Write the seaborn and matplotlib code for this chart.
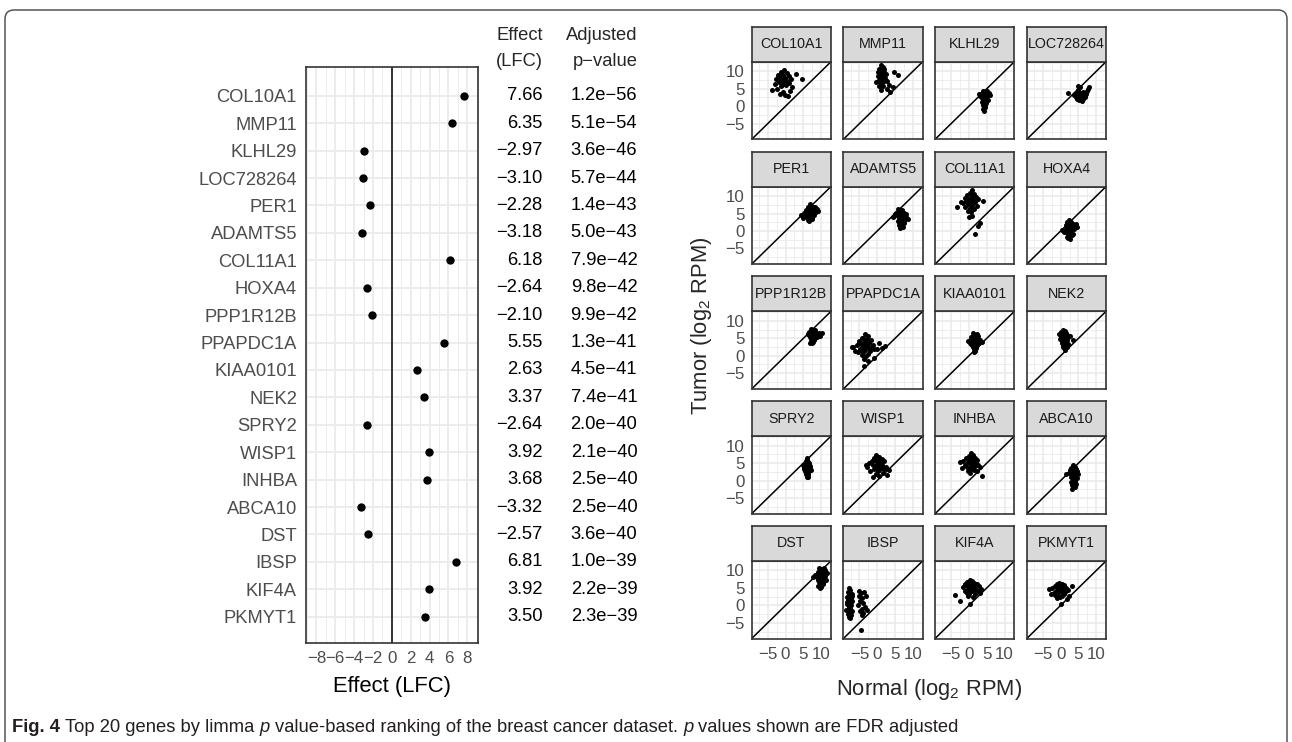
import matplotlib
matplotlib.use("Agg")
import matplotlib.pyplot as plt
import matplotlib.transforms as mtransforms
from matplotlib.patches import FancyBboxPatch
from matplotlib.ticker import MultipleLocator, FixedLocator, NullFormatter
from matplotlib import font_manager
import pandas as pd
import seaborn as sns

# ---------------------------------------------------------------- data
genes = ["COL10A1", "MMP11", "KLHL29", "LOC728264", "PER1", "ADAMTS5",
         "COL11A1", "HOXA4", "PPP1R12B", "PPAPDC1A", "KIAA0101", "NEK2",
         "SPRY2", "WISP1", "INHBA", "ABCA10", "DST", "IBSP", "KIF4A", "PKMYT1"]
effect_lfc = [7.66, 6.35, -2.97, -3.10, -2.28, -3.18, 6.18, -2.64, -2.10, 5.55,
              2.63, 3.37, -2.64, 3.92, 3.68, -3.32, -2.57, 6.81, 3.92, 3.50]
adj_pvalue = [1.2e-56, 5.1e-54, 3.6e-46, 5.7e-44, 1.4e-43, 5.0e-43, 7.9e-42,
              9.8e-42, 9.9e-42, 1.3e-41, 4.5e-41, 7.4e-41, 2.0e-40, 2.1e-40,
              2.5e-40, 2.5e-40, 3.6e-40, 1.0e-39, 2.2e-39, 2.3e-39]

effect_ticks = [-8, -6, -4, -2, 0, 2, 4, 6, 8]
expr_ticks = [-5, 0, 5, 10]

# per-sample expression (log2 RPM): normal tissue vs tumour
col10a1_normal = [-0.5, -1.2, 0.3, -2.0, -0.8, 0.9, -1.6, -0.2, 1.4, -2.6, -1.0, 0.5, -0.4, -1.8, 1.0,
                  -3.0, -0.9, 0.2, -1.3, 1.8, -3.7, 2.8, 4.6, -2.4, -0.1, 1.2, -0.6, -1.5, 0.7, -2.2]
col10a1_tumor = [10.5, 9.8, 9.5, 9.0, 8.8, 8.6, 8.2, 8.0, 7.9, 7.7, 7.5, 7.3, 7.0, 6.9, 6.6,
                 6.4, 6.2, 6.0, 5.8, 5.5, 4.6, 9.3, 7.9, 4.9, 3.2, 4.3, 4.0, 3.6, 2.9, 8.4]
mmp11_normal = [1.0, 1.5, 0.6, 2.0, 1.2, 0.3, 1.8, 0.9, 2.4, 1.4, 0.1, 1.7, 0.7, 2.2, 1.1,
                0.4, 1.9, 2.8, 0.8, 1.3, 3.2, 4.3, 5.7, 4.7, 1.6, 0.5, 2.6, 1.0, 3.6, -0.3]
mmp11_tumor = [11.7, 11.2, 10.8, 10.6, 10.2, 9.9, 9.7, 9.4, 9.2, 9.0, 8.7, 8.5, 8.3, 8.0, 7.8,
               7.6, 7.3, 7.1, 6.8, 6.5, 6.2, 5.4, 8.8, 9.8, 5.8, 5.9, 5.0, 4.6, 4.2, 7.0]
klhl29_normal = [3.8, 4.4, 5.0, 3.4, 4.1, 4.8, 5.6, 3.1, 4.0, 4.6, 5.2, 3.6, 4.3, 4.9, 3.9,
                 4.5, 5.4, 4.2, 4.7, 3.7, 4.4, 4.0, 4.6, 4.2, 3.9, 4.5, 4.1, 4.3, 2.8, 5.9]
klhl29_tumor = [4.4, 4.0, 4.3, 3.6, 3.2, 3.5, 3.8, 2.9, 2.6, 2.8, 3.0, 2.3, 2.0, 2.2, 1.6,
                1.5, 1.8, 1.1, 0.9, 1.2, 0.6, 0.2, -0.2, -0.5, -0.9, -0.1, -1.3, 0.3, 3.4, 3.1]
loc728264_normal = [4.0, 4.6, 5.2, 5.8, 6.4, 7.0, 4.3, 4.9, 5.5, 6.1, 6.7, 7.4, 3.8, 4.5, 5.1,
                    5.7, 6.3, 6.9, 4.8, 5.4, 6.0, 6.6, 5.0, 5.9, 2.2, 7.9, 7.6, 4.2, 6.2, 5.3]
loc728264_tumor = [3.6, 3.2, 4.0, 3.4, 3.9, 3.5, 2.6, 2.4, 2.9, 2.7, 2.5, 4.4, 3.1, 2.0, 1.8,
                   2.2, 2.0, 3.0, 4.5, 5.6, 3.3, 3.7, 5.9, 1.6, 3.8, 5.5, 4.9, 3.9, 4.2, 2.8]
per1_normal = [6.8, 7.2, 7.6, 6.4, 7.0, 7.8, 8.4, 5.8, 6.6, 7.4, 8.1, 8.9, 5.2, 6.0, 6.9,
               7.7, 8.5, 4.4, 5.5, 6.3, 7.1, 8.0, 5.0, 5.9, 6.7, 7.5, 6.2, 7.3, 9.2, 6.5]
per1_tumor = [7.8, 7.3, 7.0, 6.8, 6.5, 6.6, 6.9, 6.0, 6.2, 6.1, 5.9, 6.4, 5.2, 5.5, 5.6,
              5.4, 5.3, 4.6, 4.8, 4.9, 4.7, 4.5, 3.8, 4.0, 4.1, 3.7, 3.2, 3.4, 5.8, 2.8]
adamts5_normal = [5.8, 6.4, 7.0, 5.3, 6.0, 6.8, 7.6, 8.2, 4.6, 5.6, 6.5, 7.3, 8.0, 6.2, 7.1,
                  5.9, 6.7, 7.5, 8.6, 6.3, 7.0, 6.0, 6.6, 7.2, 6.4, 6.9, 6.1, 7.4, 4.4, 5.1]
adamts5_tumor = [6.3, 5.9, 6.0, 5.2, 5.4, 5.5, 5.1, 4.8, 4.3, 4.6, 4.5, 4.2, 4.0, 3.7, 3.5,
                 3.0, 3.2, 2.8, 3.4, 2.4, 2.0, 1.8, 1.5, 1.2, 0.8, 1.0, 2.6, 2.2, 4.1, 5.0]
col11a1_normal = [0.9, 0.2, 1.5, -0.5, 0.8, 2.0, -1.2, 0.0, 1.2, 2.6, -0.8, 0.5, 1.8, -1.8, -0.2,
                  0.9, 2.3, -1.0, 0.3, 1.4, -0.4, 0.7, 3.9, -3.4, 0.9, 1.8, 3.2, 2.6, -2.2, 0.1]
col11a1_tumor = [11.7, 11.0, 10.6, 10.3, 10.0, 9.8, 9.5, 9.3, 9.0, 9.2, 8.7, 8.5, 8.3, 8.0, 7.7,
                 7.5, 7.2, 6.9, 6.6, 6.3, 5.8, 5.3, 8.6, 6.9, 4.4, -0.8, 2.2, 1.3, 8.2, 4.0]
hoxa4_normal = [2.4, 2.9, 1.8, 2.2, 3.0, 3.6, 1.5, 2.6, 3.3, 4.2, 1.9, 2.5, 3.1, 1.2, 2.0,
                2.8, 3.8, 2.3, 1.6, 2.7, 3.4, 1.0, 2.1, 4.5, 2.2, 1.7, 2.5, 3.2, 0.5, 2.0]
hoxa4_tumor = [3.1, 2.6, 2.7, 2.2, 2.4, 2.0, 1.6, 1.8, 1.5, 1.9, 1.0, 1.1, 0.8, 0.4, 0.5,
               0.2, 0.6, -0.3, -0.2, -0.5, -0.8, -0.4, -1.0, 1.2, -1.5, -1.8, -2.3, -1.2, 0.4, -1.9]
ppp1r12b_normal = [7.0, 7.6, 8.2, 6.6, 7.3, 7.9, 8.6, 6.3, 7.1, 7.7, 8.4, 9.3, 6.8, 7.4, 8.0,
                   7.2, 7.8, 8.8, 6.5, 7.5, 8.1, 10.3, 9.8, 7.0, 7.6, 6.9, 7.9, 7.3, 8.3, 6.2]
ppp1r12b_tumor = [7.8, 7.5, 7.3, 6.9, 7.0, 6.7, 6.5, 6.2, 6.3, 6.1, 6.0, 6.4, 5.5, 5.7, 5.6,
                  5.0, 5.2, 5.4, 5.9, 4.6, 4.8, 6.4, 5.6, 4.2, 4.0, 3.8, 4.4, 3.6, 5.1, 6.1]
ppapdc1a_normal = [-3.5, -2.6, -4.2, -3.0, -1.8, -5.0, -3.8, -2.2, -4.6, -3.2, -1.2, -5.8, -2.9, -4.0,
                   -1.5, -6.7, -3.6, -2.4, -0.8, -4.8, -3.3, -2.0, -5.4, -3.9, -0.2, 1.4, -7.2, -2.7,
                   -4.4, -3.1, -1.0, -5.2, -3.7, -3.8, 2.2, -6.2, -2.5, -4.1, 0.5, -3.4]
ppapdc1a_tumor = [6.3, 5.6, 5.2, 4.8, 4.5, 4.2, 4.0, 3.8, 3.5, 3.4, 3.2, 3.0, 2.9, 2.7,
                  2.6, 2.5, 2.3, 2.1, 2.0, 1.8, 1.6, 1.5, 1.2, 1.0, 1.9, 2.2, 2.6, 0.6,
                  0.2, -0.2, -0.5, 3.6, -1.0, -3.0, 2.8, 1.4, -1.6, 5.0, 3.6, 4.4]
kiaa0101_normal = [1.0, 1.6, 2.2, 0.6, 1.3, 1.9, 2.6, 0.2, 1.0, 1.7, 2.4, 3.2, 0.4, 1.2, 2.0,
                   2.8, 0.8, 1.5, 2.3, 3.6, 1.1, 1.8, 1.4, 2.1, 0.7, 1.6, -0.3, 2.6, 1.3, 1.9]
kiaa0101_tumor = [6.4, 6.0, 6.2, 5.4, 5.6, 5.3, 5.7, 4.6, 4.8, 4.5, 4.7, 4.4, 3.8, 3.9, 3.6,
                  3.8, 3.0, 3.2, 3.1, 4.0, 2.4, 2.6, 2.0, 2.8, 3.4, 1.5, 4.2, 3.6, 1.0, 2.2]
nek2_normal = [0.6, 1.2, 0.0, 0.9, 1.6, -0.4, 0.4, 1.0, 1.8, 2.6, 0.2, 0.8, 1.4, 2.2, -0.2,
               0.5, 1.1, 1.9, 3.4, 0.3, 0.9, 1.5, 0.7, 1.3, 2.0, 0.6, 1.0, 1.7, 1.2, 0.4]
nek2_tumor = [7.3, 7.0, 6.8, 6.6, 6.5, 6.2, 6.0, 6.1, 5.9, 5.8, 5.4, 5.2, 5.5, 5.3, 4.8,
              4.6, 4.7, 4.4, 4.6, 3.8, 3.6, 3.9, 3.0, 3.2, 3.4, 2.4, 2.2, 2.6, 1.6, 4.2]
spry2_normal = [5.9, 6.0, 5.6, 6.2, 6.5, 5.4, 5.9, 6.4, 6.8, 5.3, 5.8, 6.3, 6.9, 5.2, 5.7,
                6.1, 6.6, 5.5, 6.0, 6.5, 7.2, 5.6, 6.2, 5.8, 6.4, 5.9, 6.3, 4.8, 6.1, 5.7]
spry2_tumor = [6.4, 5.8, 5.5, 5.2, 5.0, 4.8, 4.6, 4.4, 4.2, 4.0, 3.9, 3.7, 3.8, 3.4, 3.2,
               3.1, 3.3, 2.8, 2.6, 2.7, 2.9, 2.2, 2.0, 1.8, 1.6, 1.3, 1.1, 4.6, 0.9, 2.4]
wisp1_normal = [-0.3, 0.5, -1.0, 1.2, -0.6, 0.2, 1.8, -1.6, -0.1, 0.9, -2.2, 0.3, 1.4, -1.3, -0.5,
                0.7, 2.4, -2.8, -0.2, 1.0, -0.8, 0.4, 3.2, -1.9, 0.1, 1.6, -0.4, 2.7, -3.2, 0.6,
                1.9, -1.1]
wisp1_tumor = [7.3, 6.8, 6.4, 6.2, 6.0, 5.8, 5.6, 5.5, 5.3, 5.0, 4.9, 4.8, 4.6, 4.5, 4.3,
               4.2, 4.0, 3.9, 3.7, 3.5, 3.3, 3.1, 2.9, 2.8, 2.6, 2.3, 2.0, 1.6, 4.4, 1.4,
               3.2, 1.0]
inhba_normal = [0.6, 1.2, 0.0, 0.9, 1.6, -0.8, 0.4, 1.4, 2.2, -1.6, -0.3, 0.8, 1.9, -2.6, 0.2,
                1.0, 2.6, -1.2, 0.5, 1.7, -0.5, 1.1, 3.0, -2.0, 0.7, 1.5, 3.7, -0.2, 2.3, 0.3]
inhba_tumor = [7.8, 7.4, 7.0, 6.8, 6.6, 6.4, 6.2, 5.9, 6.0, 5.6, 5.4, 5.3, 5.1, 5.2, 4.9,
               4.7, 4.5, 4.6, 4.3, 4.1, 3.9, 3.7, 3.8, 3.6, 3.3, 3.0, 1.3, 2.6, 2.8, 2.2]
abca10_normal = [3.4, 3.9, 3.0, 3.6, 4.2, 2.6, 3.3, 3.8, 4.5, 2.9, 3.5, 4.1, 4.8, 3.2, 3.7,
                 4.3, 1.4, 3.0, 3.6, 4.6, 3.4, 4.0, 2.8, 3.5, 4.2, 3.3, 3.9, 3.1, 2.4, 3.7]
abca10_tumor = [4.5, 4.0, 3.5, 3.6, 3.3, 3.0, 2.9, 2.6, 2.8, 2.4, 2.2, 2.0, 1.9, 1.6, 1.5,
                1.2, 1.8, 0.9, 0.6, 0.8, 0.2, -0.1, -0.4, -0.6, -1.0, -1.3, -1.8, -2.4, 2.1, -1.0]
dst_normal = [9.5, 10.2, 10.8, 9.0, 9.8, 10.5, 11.2, 8.4, 9.3, 10.0, 10.7, 11.5, 8.8, 9.6, 10.3,
              11.0, 9.1, 9.9, 10.6, 7.6, 9.4, 10.1, 10.9, 9.7, 10.4, 9.2, 10.0, 11.3, 9.8, 10.6]
dst_tumor = [10.8, 10.4, 10.6, 9.6, 9.8, 9.9, 10.0, 8.8, 9.0, 8.9, 9.2, 9.4, 8.2, 8.3, 8.1,
             8.4, 7.4, 7.6, 7.5, 8.0, 6.8, 6.6, 6.9, 6.2, 6.0, 5.6, 5.4, 7.2, 5.0, 7.0]
ibsp_normal = [-8.0, -7.6, -8.3, -7.2, -7.9, -8.6, -7.4, -8.1, -7.0, -7.7, -8.4, -7.3, -8.0, -7.6,
               -8.8, -7.1, -7.9, -8.2, -7.5, -8.0, -7.7, -8.5, -7.2, -7.8, -5.2, -4.6, -3.8, -5.0,
               -4.3, -3.2, -4.8, -4.0, -5.4, -3.5, -4.4, -4.9, -3.9, -4.2, -3.0, -4.7]
ibsp_tumor = [5.0, 4.4, 3.8, 3.4, 2.9, 2.4, 2.0, 1.6, 1.2, 0.8, 0.4, 0.0, -0.4, -0.8,
              -1.2, -1.6, -2.0, -2.4, -2.8, -3.2, -3.6, 1.0, 2.6, -0.2, 4.0, 3.5, 3.8, 2.6,
              2.0, 2.6, 1.2, 0.6, 0.2, -0.4, -1.0, -1.6, -2.2, -2.8, -1.3, -7.2]
kif4a_normal = [0.2, 0.9, -0.5, 1.5, -1.2, 0.4, 2.2, -0.8, 0.0, 1.1, 2.8, -1.8, 0.6, 1.8, -0.3,
                3.4, 0.3, 1.3, -1.0, 0.8, 2.4, -0.6, 1.6, 0.1, -3.8, -2.4, 0.4, 1.0, 3.0, -0.2]
kif4a_tumor = [7.3, 7.0, 6.6, 6.5, 6.2, 6.0, 6.0, 5.7, 5.5, 5.6, 5.5, 5.2, 5.0, 5.0, 4.8,
               4.6, 4.5, 4.4, 4.2, 4.0, 4.1, 3.6, 3.4, 3.2, 3.0, 1.3, 0.5, 2.5, 3.5, 2.6]
pkmyt1_normal = [-0.4, 0.3, -1.0, 1.0, -1.6, -0.2, 0.7, -2.4, -0.7, 1.5, -3.3, 0.0, 2.0, -1.3, 0.5,
                 -0.5, 1.2, -2.0, 0.2, 3.2, -0.9, 0.9, -1.7, 0.4, 2.4, -0.3, -2.8, 1.8, 0.0, -1.1]
pkmyt1_tumor = [6.5, 6.2, 6.0, 5.8, 5.5, 5.6, 5.3, 5.0, 5.1, 4.9, 4.6, 4.7, 4.4, 4.2, 4.3,
                4.0, 3.8, 3.6, 3.7, 5.5, 3.4, 3.2, 3.0, 2.8, 2.6, 2.5, 3.2, 1.8, 0.4, 2.2]

caption_parts = [("Fig. 4", "bold", "normal"),
                 ("Top 20 genes by limma", "normal", "normal"),
                 ("p", "normal", "italic"),
                 ("value-based ranking of the breast cancer dataset.", "normal", "normal"),
                 ("p", "normal", "italic"),
                 ("values shown are FDR adjusted", "normal", "normal")]

# ---------------------------------------------------------------- tables
expr_lists = {
    "COL10A1": (col10a1_normal, col10a1_tumor), "MMP11": (mmp11_normal, mmp11_tumor),
    "KLHL29": (klhl29_normal, klhl29_tumor), "LOC728264": (loc728264_normal, loc728264_tumor),
    "PER1": (per1_normal, per1_tumor), "ADAMTS5": (adamts5_normal, adamts5_tumor),
    "COL11A1": (col11a1_normal, col11a1_tumor), "HOXA4": (hoxa4_normal, hoxa4_tumor),
    "PPP1R12B": (ppp1r12b_normal, ppp1r12b_tumor), "PPAPDC1A": (ppapdc1a_normal, ppapdc1a_tumor),
    "KIAA0101": (kiaa0101_normal, kiaa0101_tumor), "NEK2": (nek2_normal, nek2_tumor),
    "SPRY2": (spry2_normal, spry2_tumor), "WISP1": (wisp1_normal, wisp1_tumor),
    "INHBA": (inhba_normal, inhba_tumor), "ABCA10": (abca10_normal, abca10_tumor),
    "DST": (dst_normal, dst_tumor), "IBSP": (ibsp_normal, ibsp_tumor),
    "KIF4A": (kif4a_normal, kif4a_tumor), "PKMYT1": (pkmyt1_normal, pkmyt1_tumor),
}
effects = pd.DataFrame({"gene": genes, "effect": effect_lfc, "padj": adj_pvalue})
expr = pd.concat([pd.DataFrame({"gene": g, "normal": n, "tumor": t})
                  for g, (n, t) in expr_lists.items()], ignore_index=True)

# ---------------------------------------------------------------- style
sns.set_theme(style="white")
plt.rcParams["font.family"] = ["Liberation Sans", "DejaVu Sans"]
plt.rcParams["mathtext.default"] = "regular"
plt.rcParams["axes.unicode_minus"] = True

GRID = "#EBEBEB"
BORDER = "#333333"
TICKTXT = "#4D4D4D"
MINUS = "\u2212"
TICK_SIZE = 12.2
LABEL_SIZE = 13.2

W, H = 1292, 742
fig = plt.figure(figsize=(W / 100, H / 100), dpi=100)


def px_axes(x0, y0, x1, y1, **kw):
    return fig.add_axes([x0 / W, 1 - y1 / H, (x1 - x0) / W, (y1 - y0) / H], **kw)


def frame(ax, lw=1.2):
    for s in ax.spines.values():
        s.set_visible(True)
        s.set_color(BORDER)
        s.set_linewidth(lw)


# ---------------------------------------------------------------- page frame
bg = px_axes(0, 0, W, H, zorder=-10)
bg.set_xlim(0, W)
bg.set_ylim(H, 0)
bg.axis("off")
bg.add_patch(FancyBboxPatch((5, 10), W - 10, H + 20,
                            boxstyle="round,pad=0,rounding_size=9",
                            facecolor="white", edgecolor="#555555", linewidth=1.1))

# ---------------------------------------------------------------- effect dot plot
ax = px_axes(306, 66.7, 477.7, 643.3)
ax.set_axisbelow(True)
sns.scatterplot(data=effects, x="effect", y="gene", ax=ax, color="black",
                s=36, linewidth=0, zorder=3)
ax.axvline(0, color="black", lw=1.1, zorder=2)
ax.set_xlim(-9.1, 9.1)
ax.set_ylim(len(genes) - 1 + 0.97, -1.06)
ax.xaxis.set_major_locator(FixedLocator(effect_ticks))
ax.xaxis.set_minor_locator(MultipleLocator(1))
ax.set_xticklabels([f"{t}".replace("-", MINUS) for t in effect_ticks])
ax.grid(True, which="major", color=GRID, lw=1.3)
ax.grid(True, which="minor", axis="x", color=GRID, lw=0.65)
ax.tick_params(axis="both", which="major", length=3.0, width=0.9, color=BORDER,
               labelcolor=TICKTXT, pad=3.5)
ax.tick_params(axis="both", which="minor", length=0)
ax.tick_params(axis="y", labelsize=LABEL_SIZE)
ax.tick_params(axis="x", labelsize=TICK_SIZE, pad=2.5)
ax.set_xlabel("Effect (LFC)", fontsize=15.8, color="black", labelpad=7)
ax.set_ylabel("")
frame(ax)

# value table beside the dot plot
tbl = mtransforms.blended_transform_factory(fig.transFigure, ax.transData)
COL_EFF, COL_P = 542.7 / W, 637.3 / W
for i, (e, p) in enumerate(zip(effect_lfc, adj_pvalue)):
    ax.text(COL_EFF, i, f"{e:.2f}".replace("-", MINUS), transform=tbl,
            ha="right", va="center", fontsize=LABEL_SIZE, color="black")
    ax.text(COL_P, i, f"{p:.1e}".replace("-", MINUS), transform=tbl,
            ha="right", va="center", fontsize=LABEL_SIZE, color="black")
for label, col in (("Effect", COL_EFF), ("Adjusted", COL_P)):
    fig.text(col, 1 - 36 / H, label, ha="right", va="center", fontsize=LABEL_SIZE)
for label, col in (("(LFC)", COL_EFF), ("p" + MINUS + "value", COL_P)):
    fig.text(col, 1 - 62 / H, label, ha="right", va="center", fontsize=LABEL_SIZE)

# ---------------------------------------------------------------- facets
LIM = (-9.5, 12.75)
COL_X0, COL_PITCH, PANEL_W = 751.7, 91.7, 79.3
ROW_Y0, ROW_PITCH, PANEL_H, STRIP_H = 61.7, 124.8, 77.6, 35.0
NCOL = 4
nrow = (len(genes) + NCOL - 1) // NCOL

for k, g in enumerate(genes):
    r, c = divmod(k, NCOL)
    x0 = COL_X0 + c * COL_PITCH
    y0 = ROW_Y0 + r * ROW_PITCH
    axf = px_axes(x0, y0, x0 + PANEL_W, y0 + PANEL_H)
    axf.set_axisbelow(True)
    sub = expr[expr["gene"] == g]
    sns.scatterplot(data=sub, x="normal", y="tumor", ax=axf, color="black",
                    s=13, linewidth=0, zorder=3)
    axf.axline((0, 0), slope=1, color="black", lw=1.1, zorder=2)
    axf.set_xlim(*LIM)
    axf.set_ylim(*LIM)
    for axis in (axf.xaxis, axf.yaxis):
        axis.set_major_locator(FixedLocator(expr_ticks))
        axis.set_minor_locator(FixedLocator([-7.5, -2.5, 2.5, 7.5, 12.5]))
    axf.grid(True, which="major", color=GRID, lw=1.2)
    axf.grid(True, which="minor", color=GRID, lw=0.6)
    axf.tick_params(which="minor", length=0)
    axf.tick_params(which="major", length=3.0, width=0.9, color=BORDER,
                    labelcolor=TICKTXT, labelsize=TICK_SIZE, pad=2)
    axf.tick_params(axis="x", pad=3)
    axf.set_xlabel("")
    axf.set_ylabel("")
    if c == 0:
        axf.set_yticklabels([f"{t}".replace("-", MINUS) for t in expr_ticks])
    else:
        axf.tick_params(axis="y", length=0)
        axf.yaxis.set_major_formatter(NullFormatter())
    if r == nrow - 1:
        axf.set_xticklabels([f"{t}".replace("-", MINUS) for t in expr_ticks])
    else:
        axf.tick_params(axis="x", length=0)
        axf.xaxis.set_major_formatter(NullFormatter())
    frame(axf)

    strip = px_axes(x0, y0 - STRIP_H, x0 + PANEL_W, y0)
    strip.set_facecolor("#D9D9D9")
    strip.set_xticks([])
    strip.set_yticks([])
    frame(strip)
    strip.text(0.5, 0.5, g, ha="center", va="center", fontsize=10.3,
               color="#1A1A1A", transform=strip.transAxes)

fig.text(928.9 / W, 1 - 690 / H, "Normal (log$_2$ RPM)", ha="center",
         va="center", fontsize=15.8)
fig.text(702 / W, 1 - 326 / H, "Tumor (log$_2$ RPM)", ha="center",
         va="center", rotation=90, fontsize=15.8)

# ---------------------------------------------------------------- caption
installed = {f.name for f in font_manager.fontManager.ttflist}
cap_family = ["Liberation Sans Narrow"] if "Liberation Sans Narrow" in installed \
    else ["Liberation Sans"]
renderer = fig.canvas.get_renderer()
CAP_SIZE = 13.2
probe_a = fig.text(0, 0, "xx", fontsize=CAP_SIZE, family=cap_family)
probe_b = fig.text(0, 0, "x x", fontsize=CAP_SIZE, family=cap_family)
space_w = probe_b.get_window_extent(renderer).width - probe_a.get_window_extent(renderer).width
probe_a.remove()
probe_b.remove()
xpos = 12.0
for txt, weight, style in caption_parts:
    t = fig.text(xpos / W, 1 - 727 / H, txt, ha="left", va="center",
                 fontsize=CAP_SIZE, family=cap_family, fontweight=weight,
                 fontstyle=style, color="#231F20")
    xpos += t.get_window_extent(renderer).width + space_w

fig.savefig("out.png", dpi=100)
